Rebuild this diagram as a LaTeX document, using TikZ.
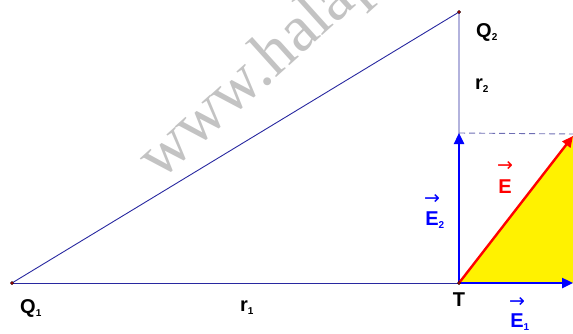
\documentclass[tikz,border=0pt]{standalone}
\usepackage{fontspec}
\setmainfont{Liberation Sans}
\newfontfamily\wmfont{Liberation Serif}
\newfontfamily\arrfont{DejaVu Sans}
\usetikzlibrary{arrows.meta}
\definecolor{navy}{RGB}{40,40,160}
\definecolor{vblue}{RGB}{0,0,255}
\definecolor{vred}{RGB}{255,0,0}
\definecolor{dashc}{RGB}{110,110,180}
\definecolor{wm}{RGB}{195,195,195}
\tikzset{
  side/.style={draw=navy, line width=0.9pt},
  vecb/.style={draw=vblue, line width=2.4pt, -{Triangle[length=11pt,width=10pt]}},
  vecr/.style={draw=vred, line width=2.4pt, -{Triangle[length=11pt,width=10pt]}},
  pt/.style={circle, fill=red!60!black, draw=black, line width=0.3pt, inner sep=0pt, minimum size=3.5pt},
  lab/.style={font=\bfseries\fontsize{20}{22}\selectfont, inner sep=0pt},
  arr/.style={font=\arrfont\fontsize{19}{20}\selectfont, inner sep=0pt}
}
\newcommand\sub[1]{\rlap{\raisebox{-3pt}{\fontsize{10}{11}\selectfont #1}}}
\begin{document}
\begin{tikzpicture}[x=1pt,y=-1pt]
\useasboundingbox (0,0) rectangle (573,333);
\begin{scope}
\clip (0,0) rectangle (573,333);
\node[text=wm, font=\wmfont\fontsize{66}{66}\selectfont, rotate=42, anchor=base west, inner sep=0pt] (wmk) at (160,182) {www.halapa.com};
\end{scope}
\coordinate (Q1) at (12,283);
\coordinate (T) at (459,283);
\coordinate (Q2) at (459,12);
\coordinate (E2) at (459,133);
\coordinate (E1) at (573,283);
\coordinate (E) at (573,136);
\coordinate (D) at (573,134);
\fill[yellow] (T) -- (E1) -- (E) -- cycle;
\draw[side] (Q1) -- (T);
\draw[side] (Q1) -- (Q2) -- (T);
\draw[dashc, line width=0.9pt, dash pattern=on 6pt off 4pt] (E2) -- (D);
\draw[vecb] (T) -- (E2);
\draw[vecb] (T) -- (E1);
\draw[vecr] (T) -- (E);
\node[pt] (q1d) at (Q1) {};
\node[pt] (q2d) at (Q2) {};
\node[pt] (td) at (T) {};
\node[lab] (lq2) at (484,32) {Q\sub{2}};
\node[lab] (lr2) at (479,86) {r\sub{2}};
\node[lab] (lq1) at (28,308) {Q\sub{1}};
\node[lab] (lr1) at (244,308) {r\sub{1}};
\node[lab] (lt) at (459,300) {T};
\node[lab, text=vblue] (le2) at (432,220) {E\sub{2}};
\node[arr, text=vblue] (ae2) at ([yshift=21pt]le2.center) {→};
\node[lab, text=vred] (le) at (505,187) {E};
\node[arr, text=vred] (ae) at ([yshift=21pt]le.center) {→};
\node[lab, text=vblue] (le1) at (517,322) {E\sub{1}};
\node[arr, text=vblue] (ae1) at ([yshift=20pt]le1.center) {→};
\end{tikzpicture}
\end{document}
